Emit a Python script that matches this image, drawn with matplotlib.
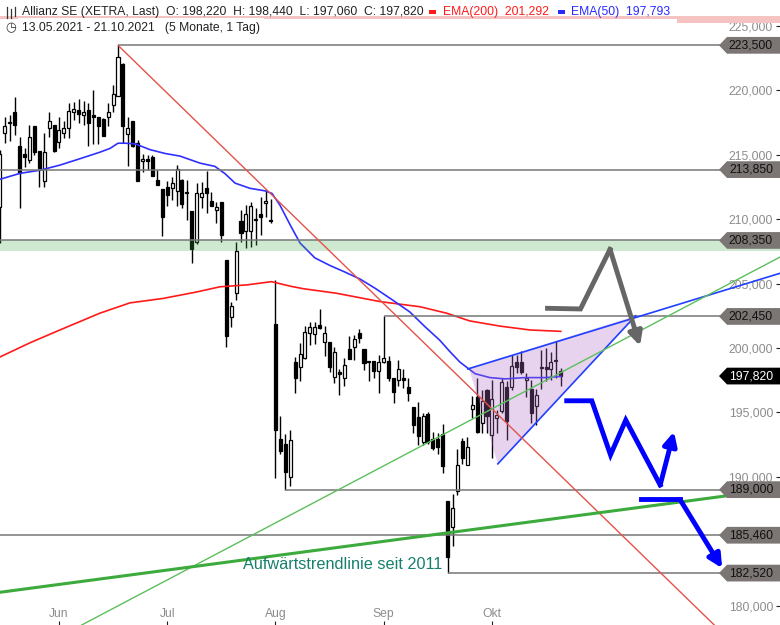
import numpy as np
import pandas as pd
import matplotlib
matplotlib.use("Agg")
import matplotlib.pyplot as plt
from matplotlib.patches import Polygon, Rectangle
from matplotlib.transforms import blended_transform_factory

plt.rcParams['font.family'] = ['Liberation Sans', 'DejaVu Sans']

# DATA -------------------

dates = pd.bdate_range("2021-05-13", "2021-10-21")
month_names = {6: "Jun", 7: "Jul", 8: "Aug", 9: "Sep", 10: "Okt"}

opens = [
    212.5, 210.95, 216.7, 217.5, 218.35, 215.7, 215.1, 214.6, 217.2, 215.3,
    213.0, 217.1, 217.3, 216.0, 216.7, 217.1, 218.3, 218.5, 218.1, 218.5,
    218.1, 217.9, 217.75, 217.9, 218.9, 219.6, 222.05, 216.6, 217.6, 215.9,
    214.5, 214.65, 214.8, 213.05, 212.35, 212.5, 212.4, 212.2, 213.05, 212.05,
    210.65, 208.2, 211.7, 212.45, 211.45, 210.75, 211.3, 206.8, 202.4, 204.3,
    209.85, 209.1, 209.05, 209.9, 210.4, 211.25, 209.95, 201.9, 192.9, 192.55,
    190.0, 198.95, 198.5, 199.2, 201.15, 201.1, 201.75, 200.45, 200.5, 197.75,
    198.15, 197.7, 199.9, 200.05, 201.15, 199.9, 198.9, 199.0, 198.25, 198.9,
    199.0, 197.65, 197.55, 197.65, 196.95, 195.4, 194.65, 192.7, 194.9, 192.9,
    192.9, 193.3, 188.1, 186.1, 188.9, 192.8, 190.95, 195.3, 196.2, 194.15,
    196.7, 193.25, 194.6, 195.1, 197.0, 197.0, 198.9, 198.95, 197.5, 196.85,
    195.5, 198.55, 198.5, 198.35, 199.0, 198.22,
]
highs = [
    213.6, 215.4, 217.9, 218.1, 219.5, 216.4, 215.5, 217.3, 217.2, 215.3,
    216.7, 218.3, 217.3, 217.9, 217.6, 219.0, 219.1, 219.3, 219.2, 219.0,
    220.0, 217.9, 217.85, 219.0, 220.4, 223.5, 222.1, 217.9, 217.6, 216.15,
    215.1, 215.0, 215.0, 213.8, 212.35, 213.0, 213.3, 214.2, 213.1, 213.05,
    210.65, 212.8, 212.9, 213.75, 212.15, 211.35, 211.3, 206.8, 203.6, 208.25,
    210.7, 211.1, 211.35, 210.9, 211.75, 212.25, 211.6, 205.3, 194.7, 193.3,
    193.6, 199.3, 200.35, 201.7, 202.05, 202.0, 203.0, 201.7, 200.5, 200.1,
    198.4, 199.2, 200.95, 201.0, 201.45, 199.9, 199.0, 199.0, 199.45, 202.45,
    199.35, 197.65, 199.05, 198.35, 197.65, 195.4, 195.8, 194.95, 195.05, 193.5,
    193.4, 194.1, 188.1, 188.65, 192.15, 193.0, 193.1, 196.3, 197.65, 196.7,
    196.85, 197.55, 195.2, 197.7, 197.4, 199.45, 199.45, 199.8, 198.05, 197.55,
    196.85, 199.85, 200.0, 199.7, 200.55, 198.44,
]
lows = [
    210.4, 208.15, 215.9, 216.1, 216.5, 210.9, 214.05, 214.4, 215.0, 212.5,
    212.5, 216.4, 215.25, 215.5, 216.3, 216.3, 217.7, 217.5, 217.3, 215.7,
    215.8, 215.8, 216.45, 217.2, 218.35, 219.6, 215.9, 214.1, 215.6, 213.0,
    213.7, 213.8, 213.35, 212.65, 208.7, 211.0, 211.5, 211.0, 210.85, 209.9,
    206.6, 208.1, 210.85, 210.45, 211.0, 209.7, 208.25, 200.1, 201.65, 203.7,
    208.2, 207.8, 207.85, 208.0, 208.75, 210.2, 209.7, 189.9, 191.8, 189.0,
    189.3, 196.5, 197.4, 199.15, 200.25, 200.3, 201.45, 199.4, 198.15, 197.3,
    196.35, 197.05, 199.15, 199.1, 200.4, 198.3, 197.4, 197.65, 196.5, 198.85,
    197.45, 195.7, 197.05, 196.9, 195.9, 193.4, 192.45, 192.45, 192.55, 192.1,
    191.8, 190.3, 182.52, 184.65, 188.6, 191.0, 190.95, 194.6, 193.4, 193.4,
    193.4, 191.45, 193.4, 194.95, 192.85, 196.75, 198.05, 198.0, 196.2, 194.2,
    194.0, 196.85, 197.4, 197.5, 197.65, 197.06,
]
closes = [
    211.0, 215.1, 217.2, 217.55, 217.3, 213.6, 214.85, 216.4, 215.2, 214.0,
    215.2, 217.65, 215.3, 216.9, 217.1, 218.4, 218.55, 218.2, 218.3, 217.5,
    217.95, 217.2, 216.45, 218.3, 219.7, 222.6, 217.2, 217.1, 215.7, 213.0,
    214.7, 214.5, 213.35, 212.65, 210.2, 211.9, 212.8, 213.9, 211.2, 212.0,
    207.7, 212.0, 212.05, 212.05, 211.0, 210.95, 208.75, 200.9, 203.25, 207.5,
    208.95, 210.4, 211.05, 210.05, 210.2, 211.4, 209.85, 193.6, 192.0, 190.4,
    192.85, 197.65, 199.55, 201.25, 201.6, 201.6, 201.55, 201.15, 198.55, 199.65,
    197.95, 198.7, 199.15, 200.7, 200.75, 198.85, 199.0, 198.25, 198.95, 199.2,
    197.65, 196.55, 198.35, 197.55, 196.5, 194.05, 193.2, 194.7, 192.7, 192.2,
    192.3, 190.8, 183.8, 187.6, 190.95, 191.45, 192.3, 195.55, 193.5, 195.85,
    194.7, 196.0, 194.8, 197.35, 194.3, 198.6, 198.5, 198.1, 197.65, 194.95,
    196.35, 198.45, 198.4, 198.95, 199.05, 197.82,
]

# moving averages (bar index, value)
ema50_idx = [1.0, 5.1, 9.1, 13.2, 17.3, 21.3, 23.4, 25.0, 26.4, 28.5, 31.5, 34.6,
             37.6, 41.7, 44.7, 46.7, 48.8, 51.8, 54.9, 56.3, 57.9, 60.0, 62.0,
             65.0, 68.1, 71.1, 74.2, 77.2, 80.9, 84.3, 87.4, 90.4, 92.5, 94.5,
             97.6, 100.6, 103.7, 107.7, 111.8, 115.0]
ema50_val = [213.1, 213.56, 213.8, 214.2, 214.7, 215.2, 215.5, 215.9, 215.9, 215.85,
             215.4, 215.1, 214.9, 214.35, 214.1, 213.55, 212.8, 212.4, 212.2, 212.0,
             211.1, 209.55, 208.15, 207.0, 206.4, 205.9, 205.35, 204.65, 203.7,
             202.8, 201.65, 200.6, 199.7, 198.9, 198.0, 197.7, 197.6, 197.7, 197.7,
             197.79]
ema200_idx = [1.0, 7.1, 13.2, 21.3, 27.4, 34.2, 41.0, 45.7, 51.2, 56.2, 60.0, 62.7,
              69.4, 78.3, 86.4, 91.8, 96.5, 102.6, 108.7, 115.0]
ema200_val = [199.3, 200.4, 201.4, 202.7, 203.5, 203.85, 204.35, 204.75, 204.9,
              205.15, 204.8, 204.6, 204.25, 203.6, 203.2, 202.7, 202.1, 201.7,
              201.4, 201.29]

# horizontal levels and the bar where each one starts (None = whole chart)
levels = [223.5, 213.85, 208.35, 202.45, 189.0, 185.46, 182.52]
level_start = [25, None, None, 79, 59, None, 92]
last_price = 197.82

# trend lines (bar index, price)
down_line = [(25.06, 223.48), (146.3, 178.45)]
up_thin = [(17.62, 178.49), (159.55, 207.06)]
up_2011 = [(1.0, 181.03), (159.55, 189.07)]
wedge_top = [(96.1, 198.37), (159.55, 205.8)]
wedge_bot = [(102.2, 191.0), (130.2, 202.5)]
wedge_fill = [(96.3, 198.45), (130.2, 202.5), (102.2, 191.0)]

# scenario arrows
grey_path = [(112.3, 203.08), (119.0, 203.03), (125.0, 207.66), (131.1, 200.16)]
blue_path1 = [(116.2, 195.9), (121.3, 195.9), (125.1, 191.7), (128.2, 194.4),
              (135.2, 189.36), (138.0, 193.5)]
blue_path2 = [(131.3, 188.25), (139.2, 188.25), (147.8, 182.9)]


# PLOTTING -------------------

W, H = 780, 625
fig = plt.figure(figsize=(W / 100, H / 100), dpi=100)
ax = fig.add_axes([0, 0, 1, 1])
x_left, x_right = 1.016, 159.55
ax.set_xlim(x_left, x_right)
ax.set_ylim(178.49, 227.02)
for s in ax.spines.values():
    s.set_visible(False)

o = np.array(opens); h = np.array(highs); l = np.array(lows); c = np.array(closes)
idx = np.arange(len(o))
up = c >= o

# candles
ax.vlines(idx, l, h, color='black', lw=1.0, zorder=3)
body_lo = np.minimum(o, c)
body_h = np.maximum(np.abs(c - o), 0.08)
ax.bar(idx[up], body_h[up], bottom=body_lo[up], width=0.62, color='white',
       edgecolor='black', lw=0.9, zorder=3)
ax.bar(idx[~up], body_h[~up], bottom=body_lo[~up], width=0.62, color='black',
       edgecolor='black', lw=0.9, zorder=3)

# EMAs
ax.plot(ema200_idx, ema200_val, color='#ff1a1a', lw=1.2, zorder=4)
ax.plot(ema50_idx, ema50_val, color='#3030ff', lw=1.2, zorder=4)

# support band
ax.axhspan(207.55, 208.35, color=(67/255, 171/255, 75/255), alpha=0.25, lw=0, zorder=5)

# levels
for lv, st in zip(levels, level_start):
    ax.hlines(lv, x_left if st is None else st, x_right, color='#777777', lw=1.1, zorder=5)

# wedge
ax.add_patch(Polygon(wedge_fill, closed=True, facecolor=(178/255, 112/255, 198/255),
                     alpha=0.3, lw=0, zorder=5))
for seg in (wedge_top, wedge_bot):
    ax.plot(*zip(*seg), color='#2040ff', lw=1.2, zorder=6)

# trend lines
ax.plot(*zip(*down_line), color='#e5524a', lw=1.0, zorder=6)
ax.plot(*zip(*up_thin), color='#5cbf5c', lw=1.0, zorder=6)
ax.plot(*zip(*up_2011), color='#3daa3d', lw=2.2, zorder=6)
ax.text(50.4, 183.15, "Aufwärtstrendlinie seit 2011", color='#17806d', fontsize=11.7,
        ha='left', va='center', zorder=7)


def arrow_path(pts, color, ms):
    xs, ys = zip(*pts[:-1])
    ax.plot(xs, ys, color=color, lw=3.5, solid_joinstyle='miter', zorder=7)
    ax.annotate('', xy=pts[-1], xytext=pts[-2], zorder=7,
                arrowprops=dict(arrowstyle='-|>', color=color, lw=3.5,
                                mutation_scale=ms, shrinkA=0, shrinkB=0))


arrow_path(grey_path, '#666666', 20)
arrow_path(blue_path1, '#0000ff', 20)
arrow_path(blue_path2, '#0000ff', 20)

# price tags on the right
tr = blended_transform_factory(ax.transAxes, ax.transData)


def tag(p, txt, fc, tc):
    hh = 0.65
    pts = [(719 / W, p), (727 / W, p + hh), (1.0, p + hh), (1.0, p - hh), (727 / W, p - hh)]
    ax.add_patch(Polygon(pts, closed=True, transform=tr, facecolor=fc, lw=0, zorder=8))
    ax.text(773 / W, p, txt, transform=tr, ha='right', va='center', fontsize=8.7,
            color=tc, zorder=9)


for lv in levels:
    tag(lv, f"{lv:.3f}".replace('.', ','), '#7b7674', '#111111')
tag(last_price, f"{last_price:.3f}".replace('.', ','), 'black', 'white')

# axes ticks (185 label sits under the 185,460 tag in the original)
yticks = np.arange(180, 226, 5)
ax.yaxis.tick_right()
ax.set_yticks(yticks)
ax.set_yticklabels(["" if v == 185 else f"{v:.3f}".replace('.', ',') for v in yticks])
ax.tick_params(axis='y', direction='in', length=3, width=0.8, colors='#222',
               labelcolor='#8c8c8c', labelsize=8.7, pad=-5)
for t in ax.get_yticklabels():
    t.set_horizontalalignment('right')

month_pos = [i for i in range(1, len(dates)) if dates[i].month != dates[i - 1].month]
ax.set_xticks(month_pos)
ax.set_xticklabels([month_names[dates[i].month] for i in month_pos])
ax.tick_params(axis='x', direction='in', length=3, width=0.8, colors='#222',
               labelcolor='#8c8c8c', labelsize=8.7, pad=-12.5)


# header
def fpx(x, y):
    return x / W, 1 - y / H


fig.add_artist(Rectangle(fpx(0, 19), 1, 2.5 / H, transform=fig.transFigure,
                         color='#f6c3c3', lw=0, zorder=1))
fig.add_artist(Rectangle(fpx(677, 23), 103 / W, 7 / H, transform=fig.transFigure,
                         color='#f6c3c3', lw=0, zorder=1))
for xx, y0, y1 in ((7, 7, 18), (11, 9, 18), (15, 7, 16)):
    fig.add_artist(plt.Line2D([xx / W, xx / W], [1 - y1 / H, 1 - y0 / H],
                              transform=fig.transFigure, color='#333', lw=0.9, zorder=3))

fig.text(*fpx(22, 12), "Allianz SE (XETRA, Last)  O: 198,220  H: 198,440  L: 197,060  C: 197,820",
         ha='left', va='center', fontsize=8.7, color='#222', zorder=3)
fig.add_artist(Rectangle(fpx(429, 14), 7 / W, 4 / H, transform=fig.transFigure,
                         color='#ff1a1a', lw=0, zorder=3))
fig.text(*fpx(443, 12), "EMA(200)  201,292", ha='left', va='center', fontsize=8.7,
         color='#ff1a1a', zorder=3)
fig.add_artist(Rectangle(fpx(558, 14), 7 / W, 4 / H, transform=fig.transFigure,
                         color='#2a2aff', lw=0, zorder=3))
fig.text(*fpx(571, 12), "EMA(50)  197,793", ha='left', va='center', fontsize=8.7,
         color='#2a2aff', zorder=3)
fig.text(*fpx(5, 28), "\u25F7", ha='left', va='center', fontsize=9, color='#333',
         family='DejaVu Sans', zorder=4)
fig.text(*fpx(22, 28), "13.05.2021 - 21.10.2021   (5 Monate, 1 Tag)", ha='left',
         va='center', fontsize=8.7, color='#222', zorder=3,
         bbox=dict(facecolor='white', edgecolor='none', pad=2.5))

fig.savefig("out.png", dpi=100)
